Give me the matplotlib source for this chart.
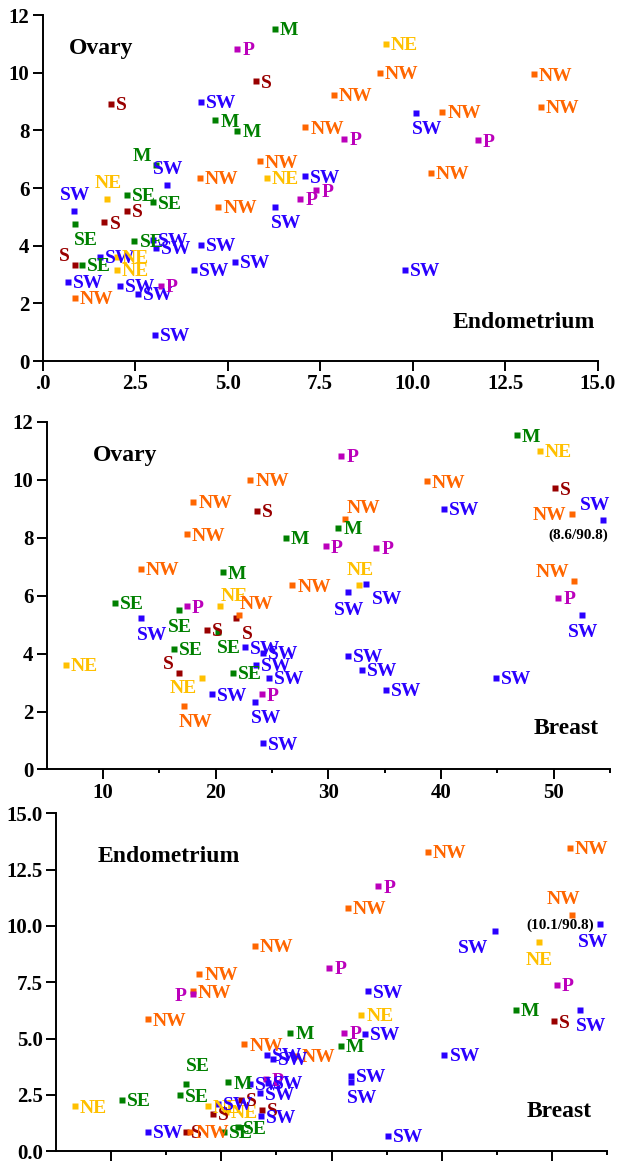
import numpy as np
import matplotlib.pyplot as plt

plt.rcParams['font.family'] = ['Liberation Serif', 'DejaVu Serif']
plt.rcParams['font.weight'] = 'bold'

# one row per population: region code and rates for the three cancers
region = ['M', 'P', 'S', 'S', 'SW', 'M', 'M', 'M', 'SW', 'NW',
          'NW', 'NE', 'SW', 'NW', 'SE', 'SE', 'NE', 'SW', 'SE', 'S',
          'S', 'SE', 'SW', 'SW', 'SW', 'SW', 'SW', 'S', 'SE', 'SW',
          'NE', 'NE', 'SW', 'NW', 'SW', 'SW', 'P', 'SW', 'NW', 'SW',
          'P', 'P', 'P', 'NE', 'NW', 'NW', 'SW', 'NW', 'P', 'NW',
          'NW', 'NW', 'SW']
endometrium = [6.27, 5.26, 5.77, 1.85, 4.29, 4.67, 5.26, 3.06, 3.35, 4.24,
               5.86, 6.05, 7.10, 7.10, 2.28, 2.98, 1.74, 0.85, 0.87, 1.67,
               2.28, 2.48, 2.98, 3.07, 4.28, 5.20, 4.10, 0.87, 1.07, 1.55,
               2.00, 2.00, 0.68, 0.87, 2.10, 2.58, 3.19, 3.03, 4.75, 6.27,
               6.96, 7.40, 8.15, 9.27, 9.11, 7.87, 10.1, 10.80, 11.76, 10.49,
               13.28, 13.47, 9.79]
ovary = [11.53, 10.82, 9.70, 8.93, 8.99, 8.35, 7.99, 6.81, 6.11, 6.35,
         6.93, 6.35, 6.40, 8.11, 5.76, 5.51, 5.63, 5.22, 4.75, 4.81,
         5.21, 4.17, 4.21, 3.92, 4.03, 3.44, 3.16, 3.34, 3.34, 3.61,
         3.61, 3.16, 2.75, 2.20, 2.60, 2.33, 2.60, 0.91, 5.34, 5.34,
         5.63, 5.92, 7.70, 11.00, 9.99, 9.23, 8.6, 8.65, 7.65, 6.52,
         9.94, 8.82, 3.16]
breast = [46.70, 31.16, 50.15, 23.65, 40.25, 30.87, 26.25, 20.63, 31.78, 26.80,
          13.35, 32.72, 33.30, 17.42, 11.02, 16.76, 20.39, 13.35, 20.22, 19.22,
          21.82, 16.26, 22.63, 31.78, 24.18, 33.00, 24.72, 16.75, 21.50, 23.58,
          6.72, 18.75, 35.14, 17.20, 19.68, 23.50, 24.10, 24.20, 22.08, 52.52,
          17.42, 50.42, 29.80, 48.79, 23.06, 18.00, 90.8, 31.50, 34.25, 51.80,
          38.72, 51.62, 44.86]

# where each region label sits next to its marker, per panel
lab_endo_ovary = ('r r r r r r r al a r r r r r r r a a b r '
                  'r r r r r r r al r r r r r r r r r r r b '
                  'r r r r r r b r r r r r r').split()
lab_breast_ovary = ('r r r r r r r r bc r r a br r r bc ar b b r '
                    'br r r r r r r al r r r bl r b r b r r ar bc '
                    'r r r r r r aw ar r al r l r').split()
lab_breast_endo = ('r r r r r r r r r r r r r r r au r r r r '
                   'r r r b r r r r r r r r r r r r r r r b '
                   'l r r bc r r bw r r aw r r bll').split()

eo_xticklabels = ['.0', '2.5', '5.0', '7.5', '10.0', '12.5', '15.0']
be_yticklabels = ['0.0', '2.5', '5.0', '7.5', '10.0', '12.5', '15.0']

colors = {'SW': '#2a00ff', 'NW': '#ff6600', 'NE': '#ffc000', 'SE': '#008000',
          'M': '#008000', 'S': '#990000', 'P': '#bb00bb'}

# label offsets in pixels: dx, dy (up), horizontal alignment
offsets = {'r': (5, 0, 'left'), 'l': (-6, 0, 'right'),
           'a': (1, 17, 'center'), 'aw': (-8, 17, 'center'),
           'ar': (1, 12, 'left'), 'au': (0, 19, 'left'),
           'al': (-5, 10, 'right'),
           'b': (11, -15, 'center'), 'bc': (1, -16, 'center'),
           'bw': (-7, -17, 'center'), 'br': (6, -14, 'left'),
           'bl': (-5, -9, 'right'), 'bll': (-7, -16, 'right')}

BREAST_EDGE = 54.4  # off-scale breast rate is drawn on the right edge
PX = 0.72           # points per pixel at dpi 100
HALF_CAP = 4.6      # half the cap height of the labels, in points


def scatter_panel(ax, x, y, pos):
    for r, xi, yi, p in zip(region, x, y, pos):
        c = colors[r]
        ax.plot(xi, yi, 's', ms=4.0, color=c, mec='none', clip_on=False)
        dx, dy, ha = offsets[p]
        ax.annotate(r, (xi, yi), xytext=(dx * PX, dy * PX - HALF_CAP),
                    textcoords='offset points', ha=ha, va='baseline',
                    color=c, fontsize=14, fontweight='bold',
                    annotation_clip=False)


def style_axes(ax):
    for s in ['top', 'right']:
        ax.spines[s].set_visible(False)
    for s in ['left', 'bottom']:
        ax.spines[s].set_linewidth(1.4)
    ax.tick_params(which='major', direction='out', length=7.5, width=1.4,
                   labelsize=15, pad=2)
    ax.tick_params(which='minor', direction='out', length=3, width=1.4)
    for lab in ax.get_xticklabels() + ax.get_yticklabels():
        lab.set_fontweight('bold')


fig = plt.figure(figsize=(6.17, 11.65), dpi=100)

# endometrium vs ovary
ax1 = fig.add_axes([0.0692, 0.6901, 0.8995, 0.2970])
scatter_panel(ax1, endometrium, ovary, lab_endo_ovary)
ax1.set_xlim(0, 15)
ax1.set_ylim(0, 12)
ax1.set_xticks(np.arange(0, 15.1, 2.5))
ax1.set_xticklabels(eo_xticklabels)
ax1.set_yticks(np.arange(0, 13, 2))
style_axes(ax1)
ax1.text(0.047, 0.888, 'Ovary', transform=ax1.transAxes, fontsize=17,
         fontweight='bold', va='baseline')
ax1.text(0.739, 0.0965, 'Endometrium', transform=ax1.transAxes, fontsize=17,
         fontweight='bold', va='baseline')

# breast vs ovary
xb = np.minimum(breast, BREAST_EDGE)
ax2 = fig.add_axes([0.0757, 0.3395, 0.9130, 0.2985])
scatter_panel(ax2, xb, ovary, lab_breast_ovary)
ax2.set_xlim(5, 55)
ax2.set_ylim(0, 12)
ax2.set_xticks(np.arange(10, 51, 10))
ax2.set_xticks(np.arange(15, 56, 10), minor=True)
ax2.set_yticks(np.arange(0, 13, 2))
style_axes(ax2)
ax2.text(0.082, 0.887, 'Ovary', transform=ax2.transAxes, fontsize=17,
         fontweight='bold', va='baseline')
ax2.text(0.864, 0.101, 'Breast', transform=ax2.transAxes, fontsize=17,
         fontweight='bold', va='baseline')

# breast vs endometrium
ax3 = fig.add_axes([0.0908, 0.0118, 0.8930, 0.2901])
scatter_panel(ax3, xb, endometrium, lab_breast_endo)
ax3.set_xlim(5, 55)
ax3.set_ylim(0, 15)
ax3.set_xticks(np.arange(10, 51, 10))
ax3.set_xticks(np.arange(15, 56, 10), minor=True)
ax3.set_xticklabels([])
ax3.set_yticks(np.arange(0, 15.1, 2.5))
ax3.set_yticklabels(be_yticklabels)
style_axes(ax3)
ax3.text(0.076, 0.856, 'Endometrium', transform=ax3.transAxes, fontsize=17,
         fontweight='bold', va='baseline')
ax3.text(0.854, 0.102, 'Breast', transform=ax3.transAxes, fontsize=17,
         fontweight='bold', va='baseline')

# true values of the off-scale point
k = breast.index(max(breast))
ax2.annotate('(%.1f/%.1f)' % (ovary[k], breast[k]), (xb[k], ovary[k]),
             xytext=(5 * PX, -14 * PX - 3.6), textcoords='offset points',
             ha='right', va='baseline', fontsize=11, fontweight='bold',
             annotation_clip=False)
ax3.annotate('(%.1f/%.1f)' % (endometrium[k], breast[k]), (xb[k], endometrium[k]),
             xytext=(-6 * PX, -3.6), textcoords='offset points',
             ha='right', va='baseline', fontsize=11, fontweight='bold',
             annotation_clip=False)

fig.savefig('out.png', dpi=100)
